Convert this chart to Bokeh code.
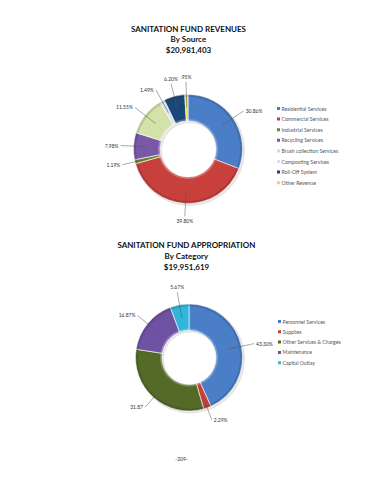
import numpy as np
from bokeh.plotting import figure
from bokeh.models import Range1d, ColumnDataSource
from bokeh.core.properties import value
from bokeh.embed import file_html
from bokeh.resources import INLINE

# ---------------- data ----------------
rev_title = ["SANITATION FUND REVENUES", "By Source", "$20,981,403"]
rev_cats = ["Residential Services", "Commercial Services", "Industrial Services",
            "Recycling Services", "Brush collection Services", "Composting Services",
            "Roll-Off System", "Other Revenue"]
rev_vals = [30.86, 39.80, 1.19, 7.98, 11.55, 1.49, 6.20, 0.95]
rev_labels = ["30.86%", "39.80%", "1.19%", "7.98%", "11.55%", "1.49%", "6.20%", ".95%"]
rev_colors = ["#4a7ec6", "#c8403c", "#6e8a2c", "#7a58a8", "#d3e2a9", "#d9e2ec",
              "#1c4677", "#e3e32c"]

app_title = ["SANITATION FUND APPROPRIATION", "By Category", "$19,951,619"]
app_cats = ["Personnel Services", "Supplies", "Other Services & Charges",
            "Maintenance", "Capital Outlay"]
app_vals = [43.30, 2.29, 31.87, 16.87, 5.67]
app_labels = ["43.30%", "2.29%", "31.87", "16.87%", "5.67%"]
app_colors = ["#4a7ec6", "#c8403c", "#536b27", "#6f52a3", "#2fb6d9"]

page_number = "-209-"

FONT = "Lato"
H = 480  # page height used to flip y so data coords = page pixels

p = figure(width=354, height=464, output_backend="svg", toolbar_location=None,
           x_range=Range1d(0, 354), y_range=Range1d(16, 480), min_border=0,
           match_aspect=False)
p.axis.visible = False
p.grid.visible = False
p.outline_line_color = None
p.background_fill_color = "white"


def Y(y):
    return H - y


def donut(cx, cy, r_out, r_in, vals, labels, colors):
    vals = np.array(vals, dtype=float)
    frac = vals / vals.sum()
    cum = np.concatenate([[0], np.cumsum(frac)])
    start = np.pi / 2 - 2 * np.pi * cum[:-1]
    end = np.pi / 2 - 2 * np.pi * cum[1:]
    # soft shadow
    p.annular_wedge(x=cx + 1.5, y=Y(cy) - 1.5, inner_radius=r_in, outer_radius=r_out + 0.5,
                    start_angle=0, end_angle=2 * np.pi, color="#d8d8d8", alpha=0.6)
    src = ColumnDataSource(dict(start=start, end=end, color=colors))
    p.annular_wedge(x=cx, y=Y(cy), inner_radius=r_in, outer_radius=r_out,
                    start_angle="start", end_angle="end", direction="clock",
                    fill_color="color", line_color="white", line_width=0.6, source=src)
    # bevel-ish shading rings
    p.annulus(x=cx, y=Y(cy), inner_radius=r_out - 2.5, outer_radius=r_out,
              fill_color="black", fill_alpha=0.12, line_color=None)
    p.annulus(x=cx, y=Y(cy), inner_radius=r_in, outer_radius=r_in + 2,
              fill_color="white", fill_alpha=0.25, line_color=None)
    mid = np.pi / 2 - 2 * np.pi * (cum[:-1] + cum[1:]) / 2
    cxs, sns = np.cos(mid), np.sin(mid)
    x0 = cx + (r_in + r_out) / 2 * cxs
    y0 = Y(cy) + (r_in + r_out) / 2 * sns
    ra = r_out + 13
    x1 = cx + ra * cxs
    y1 = Y(cy) + ra * sns
    p.segment(x0=x0, y0=y0, x1=x1, y1=y1, line_color="#555555", line_width=0.5)
    for i, lab in enumerate(labels):
        c = cxs[i]
        if c > 0.3:
            align, dx, dy, base = "left", 2, 0, "middle"
        elif c < -0.3:
            align, dx, dy, base = "right", -2, 0, "middle"
        else:
            align, dx = "center", 0
            if sns[i] > 0:
                dy, base = 2, "bottom"
            else:
                dy, base = -2, "top"
        p.text(x=[x1[i] + dx], y=[y1[i] + dy], text=[lab], text_font=value(FONT),
               text_font_size="5px", text_color="#333333", text_align=align,
               text_baseline=base)


def legend(x, y, dy, cats, colors):
    for i, (c, col) in enumerate(zip(cats, colors)):
        yy = Y(y + i * dy)
        p.rect(x=[x], y=[yy], width=3, height=3, fill_color=col, line_color=None)
        p.text(x=[x + 3], y=[yy], text=[c], text_font=value(FONT), text_font_size="5.2px",
               text_color="#555555", text_baseline="middle", text_align="left")


def titles(cx, ys, lines):
    for yy, t in zip(ys, lines):
        p.text(x=[cx], y=[Y(yy)], text=[t], text_font=value(FONT), text_font_size="8px",
               text_font_style="bold", text_color="#111111", text_align="center",
               text_baseline="middle")


titles(188, [28, 38.5, 49], rev_title)
donut(187.5, 148.5, 54.5, 28, rev_vals, rev_labels, rev_colors)
legend(278, 108, 10.6, rev_cats, rev_colors)

titles(186, [244, 255, 266], app_title)
donut(188.5, 357, 53.5, 27, app_vals, app_labels, app_colors)
legend(279, 321, 10.3, app_cats, app_colors)

p.text(x=[181], y=[Y(458)], text=[page_number], text_font=value(FONT), text_font_size="5px",
       text_color="#333333", text_align="center", text_baseline="middle")

open("out.html", "w").write(file_html(p, INLINE))
